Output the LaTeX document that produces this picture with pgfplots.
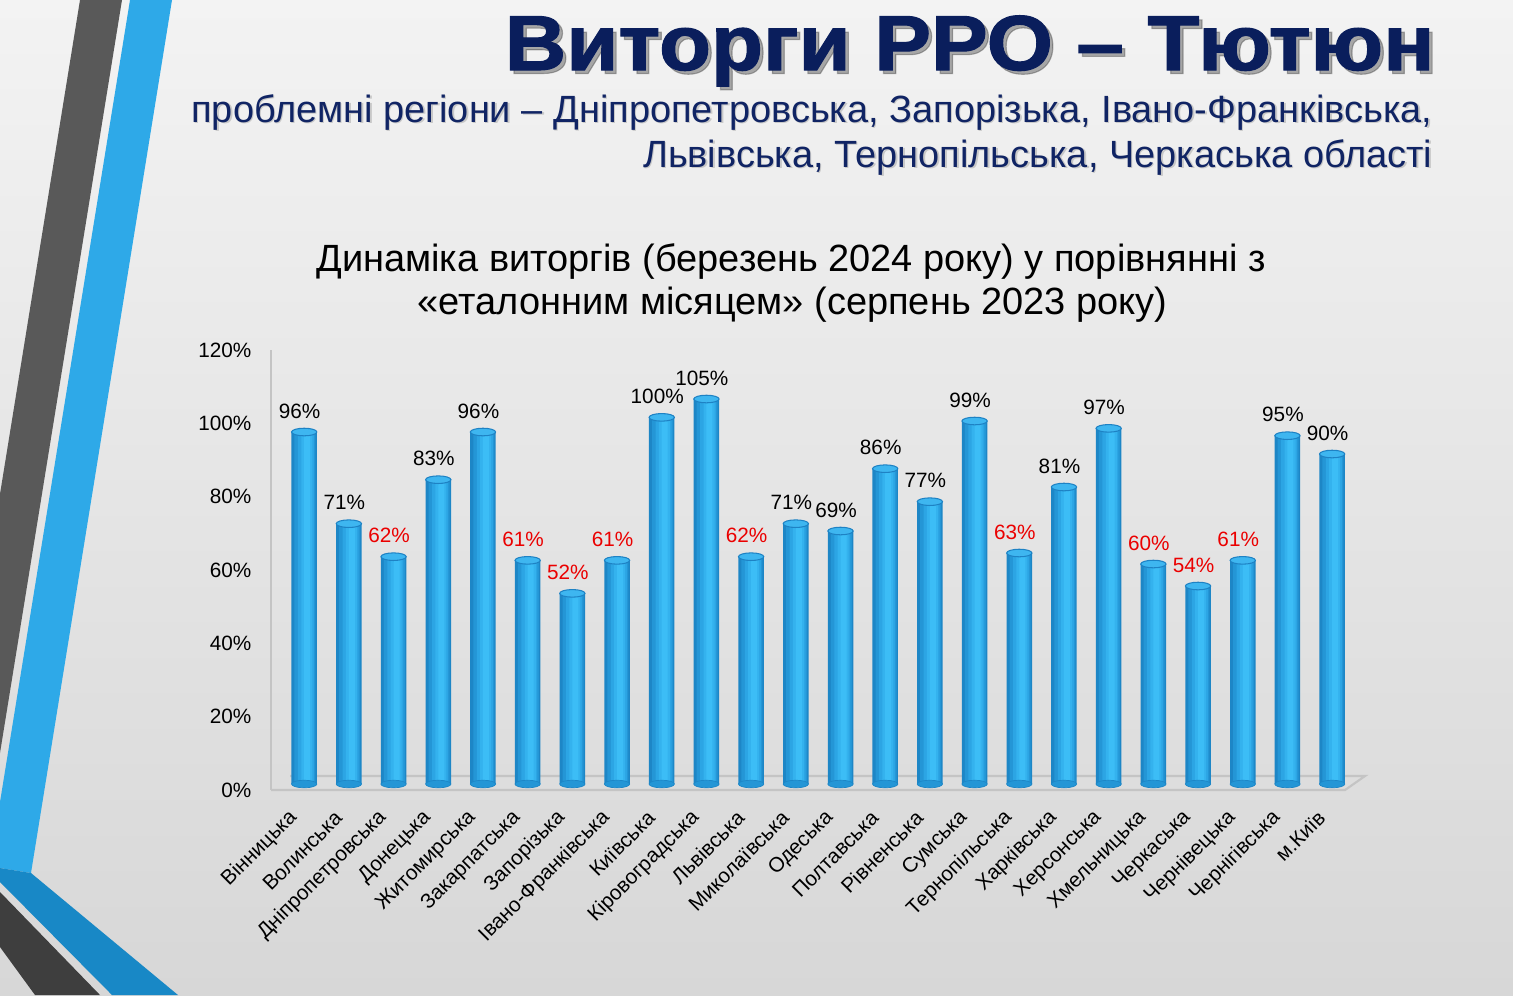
\documentclass[border=0pt]{standalone}
\usepackage{fontspec}
\setmainfont{Liberation Sans}
\newfontfamily\titlefont{Liberation Sans Bold}[FakeBold=1.4]
\usepackage{pgfplots}
\pgfplotsset{compat=1.18}
\usepackage{pgfplotstable}

\definecolor{navy}{RGB}{10,30,92}
\definecolor{subnavy}{RGB}{16,36,100}
\definecolor{barA}{RGB}{29,134,198}
\definecolor{barB}{RGB}{36,150,214}
\definecolor{barC}{RGB}{44,165,228}
\definecolor{barD}{RGB}{52,178,238}
\definecolor{barE}{RGB}{60,189,246}
\definecolor{capc}{RGB}{62,182,240}
\definecolor{capline}{RGB}{30,130,196}
\definecolor{lblred}{RGB}{235,0,0}
\definecolor{stripeDark}{RGB}{89,89,89}
\definecolor{stripeBlue}{RGB}{46,169,232}
\definecolor{stripeBlue2}{RGB}{24,136,198}
\definecolor{stripeDark2}{RGB}{62,62,62}
\definecolor{floorc}{RGB}{196,196,196}

\pgfplotstableread{
x v
0 96
1 71
2 62
3 83
4 96
5 61
6 52
7 61
8 100
9 105
10 62
11 71
12 69
13 86
14 77
15 99
16 63
17 81
18 97
19 60
20 54
21 61
22 95
23 90
}\data

\begin{document}
\begin{tikzpicture}
\useasboundingbox (0,0) rectangle (15.13,-9.95);
% background
\shade[top color={rgb,255:red,243;green,243;blue,243}, bottom color={rgb,255:red,215;green,215;blue,215}] (0,0) rectangle (15.13,-9.95);
% stripes
\fill[stripeDark] (0.80,0) -- (1.22,0) -- (0,-7.53) -- (0,-4.94) -- cycle;
\fill[stripeBlue] (1.30,0) -- (1.72,0) -- (0.31,-8.73) -- (0,-8.68) -- (0,-8.02) -- cycle;
\fill[stripeBlue2] (0,-8.68) -- (0.31,-8.73) -- (1.78,-9.95) -- (1.12,-9.95) -- (0,-8.82) -- cycle;
\fill[stripeDark2] (0,-8.92) -- (1.00,-9.95) -- (0.35,-9.95) -- (0,-9.47) -- cycle;
% title
\node[anchor=base east, inner sep=0pt, text=black!70, opacity=0.45, font=\titlefont\fontsize{22.2}{26}\selectfont] at (14.385,-0.735) {\scalebox{1.09}[1]{Виторги РРО – Тютюн}};
\node[anchor=base east, inner sep=0pt, text=navy, font=\titlefont\fontsize{22.2}{26}\selectfont] at (14.35,-0.70) {\scalebox{1.09}[1]{Виторги РРО – Тютюн}};
% subtitle
\node[anchor=base east, inner sep=0pt, text=black!50, opacity=0.35, font=\fontsize{10.8}{12}\selectfont] at (14.345,-1.235) {проблемні регіони – Дніпропетровська, Запорізька, Івано-Франківська,};
\node[anchor=base east, inner sep=0pt, text=subnavy, font=\fontsize{10.8}{12}\selectfont] at (14.33,-1.22) {проблемні регіони – Дніпропетровська, Запорізька, Івано-Франківська,};
\node[anchor=base east, inner sep=0pt, text=black!50, opacity=0.35, font=\fontsize{10.8}{12}\selectfont] at (14.345,-1.685) {Львівська, Тернопільська, Черкаська області};
\node[anchor=base east, inner sep=0pt, text=subnavy, font=\fontsize{10.8}{12}\selectfont] at (14.33,-1.67) {Львівська, Тернопільська, Черкаська області};
% chart title
\node[anchor=base, inner sep=0pt, font=\fontsize{10.8}{12}\selectfont] at (7.91,-2.71) {Динаміка виторгів (березень 2024 року) у порівнянні з};
\node[anchor=base, inner sep=0pt, font=\fontsize{10.8}{12}\selectfont] at (7.925,-3.14) {«еталонним місяцем» (серпень 2023 року)};
% floor and axis line
\draw[floorc, line width=0.6pt] (2.71,-3.50) -- (2.71,-7.90);
\draw[floorc, line width=0.6pt] (2.71,-7.90) -- (13.45,-7.90) -- (13.65,-7.76) -- (2.90,-7.76);

\begin{axis}[
  at={(2.72cm,-7.84cm)}, anchor=south west,
  scale only axis, width=10.78cm, height=4.40cm,
  xmin=-0.72, xmax=23.4, ymin=0, ymax=120,
  axis line style={draw=none}, major tick length=0pt,
  clip=false,
  /pgf/number format/assume math mode=true,
  ytick={0,20,...,120},
  yticklabel={\pgfmathprintnumber{\tick}\%},
  yticklabel style={font=\fontsize{5.9}{7}\selectfont, anchor=east, inner sep=0pt, xshift=-0.2cm, yshift=-0.06cm},
  xtick={0,...,23},
  xticklabels={Вінницька,Волинська,Дніпропетровська,Донецька,Житомирська,Закарпатська,Запорізька,Івано-Франківська,Київська,Кіровоградська,Львівська,Миколаївська,Одеська,Полтавська,Рівненська,Сумська,Тернопільська,Харківська,Херсонська,Хмельницька,Черкаська,Чернівецька,Чернігівська,м.Київ},
  xticklabel style={font=\fontsize{5.9}{7}\selectfont, inner sep=0pt, xshift=-0.10cm, yshift=-0.30cm, rotate=45, anchor=east},
]
% rounded bottoms
\addplot[color=barA, only marks, mark=*, mark size=3.6pt, mark options={yscale=0.3, draw=barA, fill=barB, line width=0.2pt}] table[x=x, y expr=0]{\data};
% cylinder bodies built from layered bars
\addplot[ybar, bar width=0.255cm, bar shift=0pt, draw=none, fill=barA] table[x=x, y=v]{\data};
\addplot[ybar, bar width=0.21cm, bar shift=0.008cm, draw=none, fill=barB] table[x=x, y=v]{\data};
\addplot[ybar, bar width=0.16cm, bar shift=0.018cm, draw=none, fill=barC] table[x=x, y=v]{\data};
\addplot[ybar, bar width=0.11cm, bar shift=0.026cm, draw=none, fill=barD] table[x=x, y=v]{\data};
\addplot[ybar, bar width=0.06cm, bar shift=0.030cm, draw=none, fill=barE] table[x=x, y=v]{\data};
% top caps
\addplot[color=capline, only marks, mark=*, mark size=3.6pt, mark options={yscale=0.3, fill=capc, draw=capline, line width=0.3pt}] table[x=x, y=v]{\data};
\addplot[draw=none, mark=none, point meta=y,
  nodes near coords={\pgfmathprintnumber{\pgfplotspointmeta}\%},
  every node near coord/.style={font=\fontsize{5.9}{7}\selectfont, text=black, anchor=south, inner sep=0pt, xshift=-0.045cm, yshift=0.13cm}]
  coordinates {(0,96)(1,71)(3,83)(4,96)(8,100)(9,105)(11,71)(12,69)(13,86)(14,77)(15,99)(17,81)(18,97)(22,95)(23,90)};
\addplot[draw=none, mark=none, point meta=y,
  nodes near coords={\pgfmathprintnumber{\pgfplotspointmeta}\%},
  every node near coord/.style={font=\fontsize{5.9}{7}\selectfont, text=lblred, anchor=south, inner sep=0pt, xshift=-0.045cm, yshift=0.13cm}]
  coordinates {(2,62)(5,61)(6,52)(7,61)(10,62)(16,63)(19,60)(20,54)(21,61)};
\end{axis}
\end{tikzpicture}
\end{document}
